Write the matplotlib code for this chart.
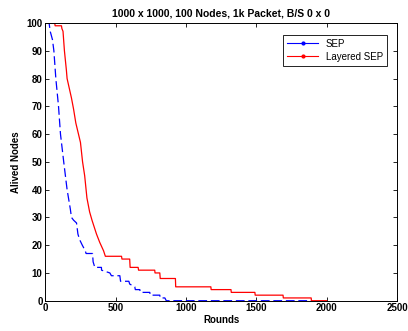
import matplotlib
matplotlib.use('Agg')
import matplotlib.pyplot as plt
from matplotlib.lines import Line2D

# SEP
sep_rounds = [0, 27, 35, 51, 61, 75, 94, 108, 131, 155, 178, 186, 201, 222, 232, 244, 263, 284,
              290, 336, 340, 352, 399, 400, 459, 470, 530, 535, 594, 600, 636, 640, 672, 675,
              743, 745, 814, 816, 850, 860, 1890]
sep_alive = [100, 100, 97, 94, 90, 80, 70, 60, 50, 40, 33, 30, 29, 28, 24, 22, 20, 18,
             17, 17, 14, 12, 12, 11, 10, 9, 9, 7, 7, 6, 5, 4, 4, 3,
             3, 2, 2, 1, 1, 0, 0]

# Layered SEP
lsep_rounds = [0, 67, 70, 115, 118, 126, 136, 150, 155, 186, 201, 217, 250, 265, 280, 296,
               315, 332, 364, 387, 414, 427, 542, 545, 600, 603, 660, 663, 778, 780, 814,
               817, 925, 927, 1177, 1179, 1320, 1322, 1490, 1492, 1690, 1692, 1890, 1892, 2000]
lsep_alive = [100, 100, 99, 99, 98, 97, 90, 83, 80, 73, 69, 64, 57, 50, 45, 37,
              32, 29, 24, 21, 18, 16, 16, 15, 15, 12, 12, 11, 11, 10, 10,
              8, 8, 5, 5, 4, 4, 3, 3, 2, 2, 1, 1, 0, 0]

plt.rcParams['font.family'] = 'Liberation Sans'

fig = plt.figure(figsize=(4.08, 3.31), dpi=100)
ax = fig.add_axes([0.111, 0.0915, 0.862, 0.839])

ax.plot(sep_rounds, sep_alive, color='blue', lw=0.9, ls=(0, (7, 3)))
ax.plot(lsep_rounds, lsep_alive, color='red', lw=0.9)

ax.set_xlim(0, 2500)
ax.set_ylim(0, 100)
ax.set_xticks([0, 500, 1000, 1500, 2000, 2500])
ax.set_yticks(range(0, 101, 10))
ax.tick_params(direction='in', top=True, right=True, length=3, width=0.6, pad=2, labelsize=7)
for lab in ax.get_xticklabels() + ax.get_yticklabels():
    lab.set_fontweight('bold')
for s in ax.spines.values():
    s.set_linewidth(0.7)

ax.set_title('1000 x 1000, 100 Nodes, 1k Packet, B/S 0 x 0', fontsize=7.5, fontweight='bold', pad=5)
ax.set_xlabel('Rounds', fontsize=7, fontweight='bold', labelpad=1)
ax.set_ylabel('Alived Nodes', fontsize=7, fontweight='bold', labelpad=4)

handles = [Line2D([], [], color='blue', marker='.', markersize=4, lw=0.8),
           Line2D([], [], color='red', marker='.', markersize=4, lw=0.8)]
leg = ax.legend(handles, ['SEP', 'Layered SEP'], loc='upper right', fontsize=7,
                fancybox=False, edgecolor='black', framealpha=1, borderpad=0.4,
                handlelength=3.2, labelspacing=0.3, bbox_to_anchor=(0.985, 0.975))
leg.get_frame().set_linewidth(0.6)

fig.savefig('out.png', dpi=100)
